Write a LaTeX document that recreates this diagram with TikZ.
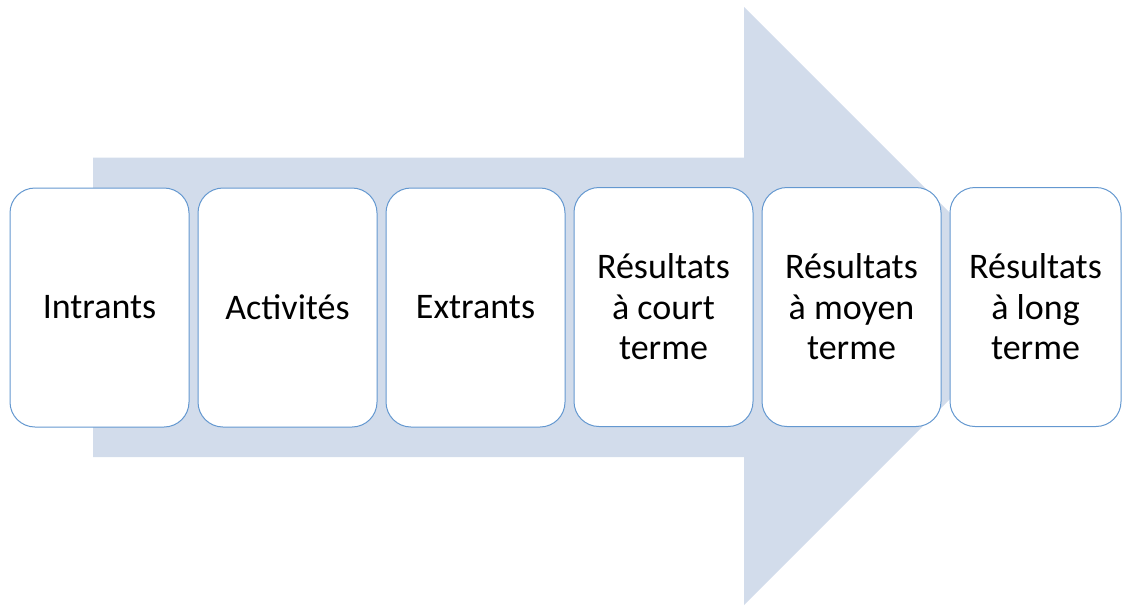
\documentclass[tikz,border=0pt]{standalone}
\usepackage{fontspec}
\setmainfont{Carlito}
\definecolor{arrowfill}{RGB}{210,220,235}
\definecolor{boxline}{RGB}{100,152,208}
\tikzset{
  stagebox/.style={draw=boxline, line width=1pt, fill=white, rounded corners=25pt,
    minimum height=239pt, inner sep=0pt, align=center,
    font=\fontsize{36}{40.5}\selectfont},
}
\begin{document}
\begin{tikzpicture}[x=1pt,y=-1pt]
\useasboundingbox (0,0) rectangle (1123,605);
\fill[arrowfill] (93,157.5) -- (744,157.5) -- (744,7) -- (1043,306) -- (744,605)
  -- (744,457) -- (93,457) -- cycle;
\node[stagebox, minimum width=179pt] (b1) at (99.5,307.5) {Intrants};
\node[stagebox, minimum width=179pt] (b2) at (287.5,307.5) {Activités};
\node[stagebox, minimum width=179pt] (b3) at (475.5,307.5) {Extrants};
\node[stagebox, minimum width=179pt] (b4) at (663.5,307) {Résultats\\à court\\terme};
\node[stagebox, minimum width=179pt] (b5) at (851.5,307) {Résultats\\à moyen\\terme};
\node[stagebox, minimum width=171pt] (b6) at (1035.5,307) {Résultats\\à long\\terme};
\end{tikzpicture}
\end{document}
